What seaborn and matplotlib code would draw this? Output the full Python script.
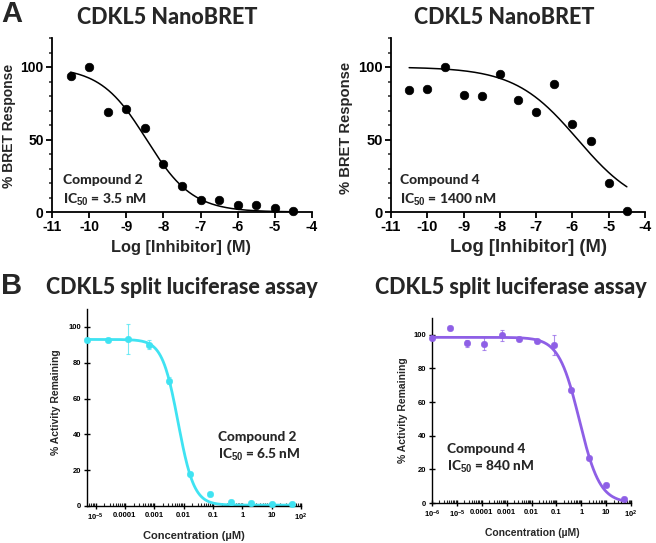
import numpy as np
import pandas as pd
import matplotlib
matplotlib.use("Agg")
import matplotlib.pyplot as plt
import seaborn as sns
from matplotlib.ticker import MultipleLocator, FixedLocator, NullFormatter

sns.set_theme(style="white")
plt.rcParams['font.family'] = ['Liberation Sans', 'DejaVu Sans']
plt.rcParams['mathtext.fontset'] = 'custom'
plt.rcParams['mathtext.rm'] = 'Liberation Sans:bold'
plt.rcParams['mathtext.bf'] = 'Liberation Sans:bold'
plt.rcParams['mathtext.it'] = 'Liberation Sans:bold'

# ---- Panel A: NanoBRET, log [inhibitor] (M)
log_conc = [-10.5, -10, -9.5, -9, -8.5, -8, -7.5, -7, -6.5, -6, -5.5, -5, -4.5]
bret_cpd2 = [94, 100, 69, 71, 58, 33, 18, 8, 8, 5, 5, 3, 0.5]
bret_cpd4 = [84, 85, 100, 81, 80, 95, 77, 69, 88, 61, 49, 20, 0.5]
# fitted curve params: top, bottom, IC50 (M), hill
fit_bret_cpd2 = [100, 0, 3.5e-9, 0.7]
fit_bret_cpd4 = [100, 0, 1400e-9, 0.5]

# ---- Panel B: split luciferase, concentration (uM)
conc_cpd2 = [5.12e-6, 2.56e-5, 1.28e-4, 6.4e-4, 0.0032, 0.016, 0.08, 0.4, 2, 10, 50]
act_cpd2 = [92.5, 92.5, 93.2, 90, 70, 18, 6.5, 2.2, 1.5, 1.2, 1]
err_cpd2 = [0.5, 0.5, 8.4, 2.5, 2, 1, 0.5, 0.5, 0.5, 0.5, 0.5]
conc_cpd4 = [1.024e-6, 5.12e-6, 2.56e-5, 1.28e-4, 6.4e-4, 0.0032, 0.016, 0.08, 0.4, 2, 10, 50]
act_cpd4 = [98, 104, 95, 94.8, 99.6, 97.8, 96.6, 93.8, 67, 26.5, 10.6, 2.2]
err_cpd4 = [0.5, 0.5, 2, 4, 3, 0.5, 0.5, 6, 1, 0.5, 0.5, 0.5]
fit_act_cpd2 = [93, 0.5, 0.0065, 1.6]
fit_act_cpd4 = [98.5, 0, 0.84, 1.05]

log_ticks_b = [1e-6, 1e-5, 1e-4, 1e-3, 1e-2, 1e-1, 1, 10, 100]
log_labels_b = ["10$^{-6}$", "10$^{-5}$", "0.0001", "0.001", "0.01", "0.1", "1", "10", "10$^{2}$"]

cyan = "#3fe3f2"
purple = "#8e5fe6"
W, H = 656, 543


def fx(px):
    return px / W


def fy(py):
    return 1 - py / H


def four_pl(logx, p):
    top, bottom, ic50, hill = p
    return bottom + (top - bottom) / (1 + 10 ** ((logx - np.log10(ic50)) * hill))


fig = plt.figure(figsize=(W / 100, H / 100), dpi=100)
title_font = dict(family=['Lato', 'DejaVu Sans'], fontweight='black')


def panel_a(box, y, fit, cpd, ic50_txt, fs, ann_xy, xlab_xy, ylab_xy, xfs):
    l, r, t, b = box
    ax = fig.add_axes([fx(l), fy(b), fx(r) - fx(l), fy(t) - fy(b)])
    xs = np.linspace(min(log_conc), max(log_conc), 200)
    sns.lineplot(x=xs, y=four_pl(xs, fit), ax=ax, color="black", lw=1.1)
    sns.scatterplot(x=log_conc, y=y, ax=ax, color="black", s=38,
                    edgecolor=None, clip_on=False, zorder=5)
    ax.set_xlim(-11, -4)
    ax.set_ylim(0, 120)
    ax.set_xticks(range(-11, -3))
    ax.set_yticks([0, 50, 100])
    ax.yaxis.set_minor_locator(MultipleLocator(10))
    for s in ["top", "right"]:
        ax.spines[s].set_visible(False)
    for s in ["left", "bottom"]:
        ax.spines[s].set_linewidth(1.3)
        ax.spines[s].set_color("black")
    ax.tick_params(which="major", direction="out", length=4, width=1.3,
                   labelsize=fs, pad=2, left=True, bottom=True, colors="black")
    ax.tick_params(which="minor", axis="y", direction="out", length=2.5,
                   width=1.1, left=True)
    for lab in ax.get_xticklabels() + ax.get_yticklabels():
        lab.set_fontweight("bold")
    ax.set_xticklabels([str(v) for v in range(-11, -3)], fontweight="bold")
    ax.set_xlabel("Log [Inhibitor] (M)", fontsize=xfs, fontweight="bold")
    ax.set_ylabel("% BRET Response", fontsize=fs, fontweight="bold")
    ax.xaxis.set_label_coords(fx(xlab_xy[0]), fy(xlab_xy[1]), transform=fig.transFigure)
    ax.yaxis.set_label_coords(fx(ylab_xy[0]), fy(ylab_xy[1]), transform=fig.transFigure)
    ax.xaxis.label.set_va("center")
    ax.yaxis.label.set_va("center")
    fig.text(fx(ann_xy[0]), fy(ann_xy[1]), cpd, fontsize=10, va="center", **title_font)
    fig.text(fx(ann_xy[0]), fy(ann_xy[1] + 20), "IC$_{50}$ = " + ic50_txt,
             fontsize=10, va="center", **title_font)
    return ax


def panel_b(box, xmin, conc, act, err, fit, color, cpd, ic50_txt, ann_xy, xlab_xy,
            ylab_xy, xfs):
    l, r, t, b = box
    ax = fig.add_axes([fx(l), fy(b), fx(r) - fx(l), fy(t) - fy(b)])
    ax.set_xscale("log")
    lx = np.linspace(np.log10(min(conc)), np.log10(max(conc)), 300)
    sns.lineplot(x=10 ** lx, y=four_pl(lx, fit), ax=ax, color=color, lw=2.0)
    ax.errorbar(conc, act, yerr=err, fmt="none", ecolor=color, elinewidth=0.8,
                capsize=1.5, capthick=0.8, alpha=0.7, clip_on=False)
    sns.scatterplot(x=conc, y=act, ax=ax, color=color, s=22, edgecolor=None,
                    clip_on=False, zorder=5)
    ax.set_xlim(xmin, 100)
    ax.set_ylim(0, 110)
    ticks = [v for v in log_ticks_b if v >= xmin * 0.999]
    labels = log_labels_b[len(log_ticks_b) - len(ticks):]
    ax.set_xticks(ticks)
    ax.set_xticklabels(labels)
    minors = [m * 10.0 ** e for e in range(-7, 2) for m in range(2, 10)]
    ax.xaxis.set_minor_locator(FixedLocator([v for v in minors if xmin < v < 100]))
    ax.xaxis.set_minor_formatter(NullFormatter())
    ax.set_yticks([0, 20, 40, 60, 80, 100])
    for s in ["top", "right"]:
        ax.spines[s].set_visible(False)
    for s in ["left", "bottom"]:
        ax.spines[s].set_linewidth(1.0)
        ax.spines[s].set_color("black")
    ax.tick_params(which="major", direction="inout", length=5, width=1.0,
                   labelsize=5.5, pad=1.5, left=True, bottom=True, colors="black")
    ax.tick_params(which="minor", axis="x", direction="in", length=2.2, width=0.8,
                   bottom=True)
    for lab in ax.get_xticklabels() + ax.get_yticklabels():
        lab.set_fontweight("bold")
    ax.set_xlabel("Concentration (\u00b5M)", fontsize=xfs, fontweight="bold")
    ax.set_ylabel("% Activity Remaining", fontsize=7.5, fontweight="bold")
    ax.xaxis.set_label_coords(fx(xlab_xy[0]), fy(xlab_xy[1]), transform=fig.transFigure)
    ax.yaxis.set_label_coords(fx(ylab_xy[0]), fy(ylab_xy[1]), transform=fig.transFigure)
    ax.xaxis.label.set_va("center")
    ax.yaxis.label.set_va("center")
    fig.text(fx(ann_xy[0]), fy(ann_xy[1]), cpd, fontsize=9.8, va="center", **title_font)
    fig.text(fx(ann_xy[0]), fy(ann_xy[1] + 18), "IC$_{50}$ = " + ic50_txt,
             fontsize=9.8, va="center", **title_font)
    return ax


panel_a((52, 312, 38, 212), bret_cpd2, fit_bret_cpd2, "Compound 2", "3.5 nM", 10,
        (63, 180), (181, 248), (9, 126), 11.8)
panel_a((391, 645, 38, 212), bret_cpd4, fit_bret_cpd4, "Compound 4", "1400 nM", 10.6,
        (400, 180), (528, 248), (346, 128), 13.2)

panel_b((87, 301, 309, 506), 5.12e-6, conc_cpd2, act_cpd2, err_cpd2, fit_act_cpd2, cyan,
        "Compound 2", "6.5 nM", (218, 437), (194, 536), (56, 402), 8)
panel_b((432, 631, 318, 503), 1e-6, conc_cpd4, act_cpd4, err_cpd4, fit_act_cpd4, purple,
        "Compound 4", "840 nM", (447, 449), (532, 533), (403, 410), 7.5)

fig.text(fx(167), fy(17), "CDKL5 NanoBRET", fontsize=15.5, ha="center", va="center", **title_font)
fig.text(fx(504), fy(17), "CDKL5 NanoBRET", fontsize=15.5, ha="center", va="center", **title_font)
fig.text(fx(182), fy(287), "CDKL5 split luciferase assay", fontsize=15.5, ha="center",
         va="center", **title_font)
fig.text(fx(511), fy(287), "CDKL5 split luciferase assay", fontsize=15.5, ha="center",
         va="center", **title_font)
fig.text(fx(1), fy(14), "A", fontsize=21, fontweight="bold", va="center")
fig.text(fx(1), fy(286), "B", fontsize=21, fontweight="bold", va="center")

fig.savefig("out.png", dpi=100)
